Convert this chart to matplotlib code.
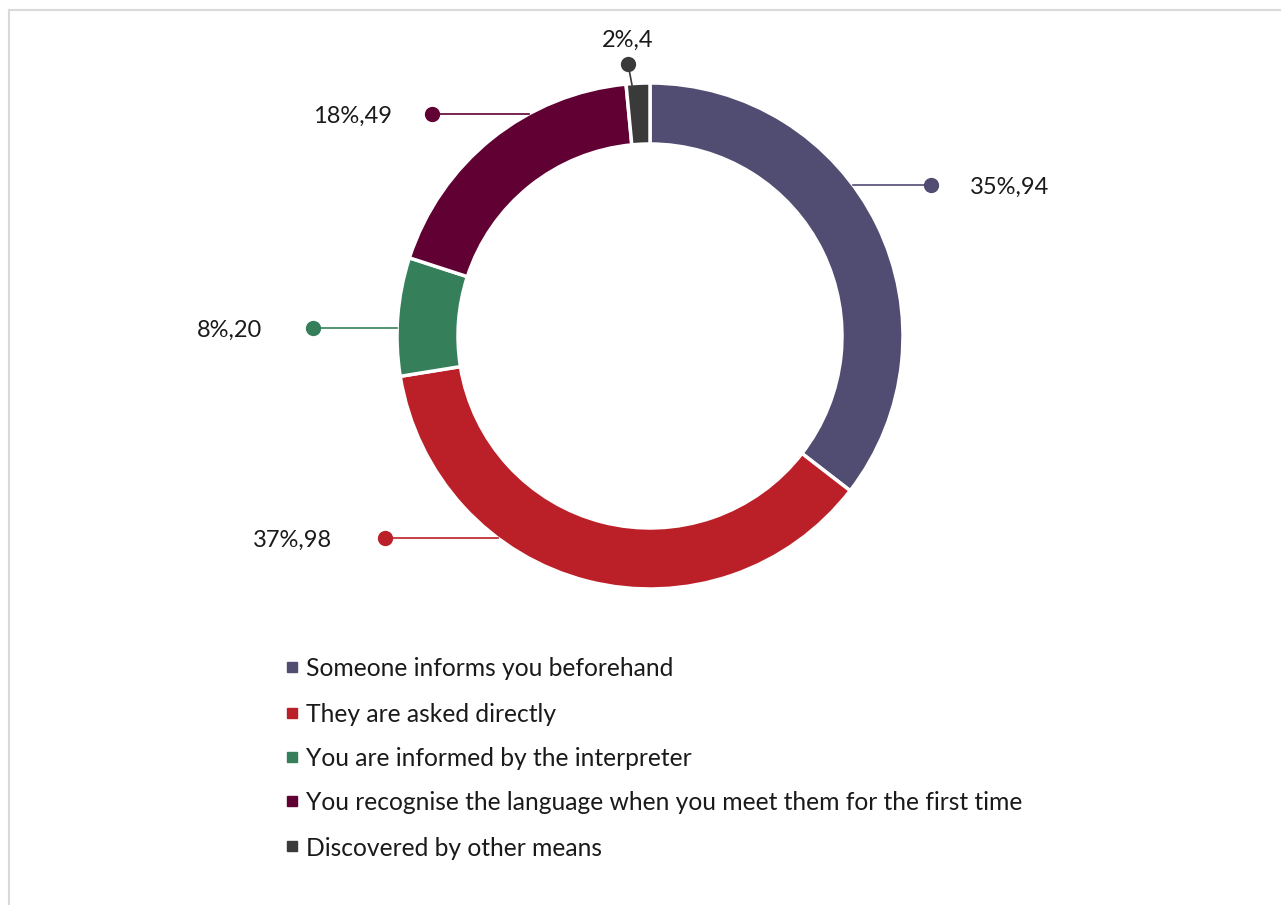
import numpy as np
import matplotlib.pyplot as plt
from matplotlib.lines import Line2D

categories = [
    'Someone informs you beforehand',
    'They are asked directly',
    'You are informed by the interpreter',
    'You recognise the language when you meet them for the first time',
    'Discovered by other means',
]
counts = [94, 98, 20, 49, 4]
colors = ['#514C72', '#BB2028', '#35805A', '#600033', '#3A3A3A']

# label dot positions (pixels from top-left) and where the text goes
dot_pos = [(931, 185), (385, 538), (313, 328), (432, 114), (628, 64)]
text_pos = [(970, 185, 'left'), (332, 538, 'right'), (262, 328, 'right'),
            (392, 114, 'right'), (628, 38, 'center')]

W, H = 1281, 905
plt.rcParams['font.family'] = ['Lato', 'DejaVu Sans']

fig = plt.figure(figsize=(W / 100, H / 100), dpi=100)
ax = fig.add_axes([0, 0, 1, 1])

def py(y):
    return H - y

cx, cy, R, ring = 650, 336, 253, 61
wedges, _ = ax.pie(counts, colors=colors, startangle=90, counterclock=False,
                   center=(cx, py(cy)), radius=R,
                   wedgeprops=dict(width=ring, edgecolor='white', linewidth=2.5),
                   frame=True)
ax.set_xlim(0, W)
ax.set_ylim(0, H)
ax.set_aspect('equal')
ax.axis('off')

total = sum(counts)
for i, v in enumerate(counts):
    pct = round(v / total * 100)
    dx, dy = dot_pos[i]
    if i == len(counts) - 1:
        # small slice at the top: short slanted leader
        ex, ey = 632, 85
    else:
        off = np.sqrt(max(R ** 2 - (dy - cy) ** 2, 0))
        ex = cx + off if dx > cx else cx - off
        ey = dy
    ax.plot([dx, ex], [py(dy), py(ey)], color=colors[i], lw=1.2, zorder=3)
    ax.plot(dx, py(dy), 'o', ms=10, color=colors[i], zorder=4)
    tx, ty, ha = text_pos[i]
    ax.text(tx, py(ty), f'{pct}%,{v}', ha=ha, va='center_baseline', fontsize=17,
            color='#1a1a1a')

# legend rows
leg_y = [667, 713, 757, 801, 846]
for i, lab in enumerate(categories):
    ax.plot(292, py(leg_y[i]), 's', ms=7, color=colors[i])
    ax.text(306, py(leg_y[i]), lab, ha='left', va='center_baseline', fontsize=17.7,
            color='#1a1a1a')

# chart-area border
fig.add_artist(Line2D([8.5 / W, 1], [1 - 10.5 / H, 1 - 10.5 / H], color='#D9D9D9', lw=1.5))
fig.add_artist(Line2D([8.5 / W, 8.5 / W], [0, 1 - 10.5 / H], color='#D9D9D9', lw=1.5))

fig.savefig('out.png', dpi=100, facecolor='white')
